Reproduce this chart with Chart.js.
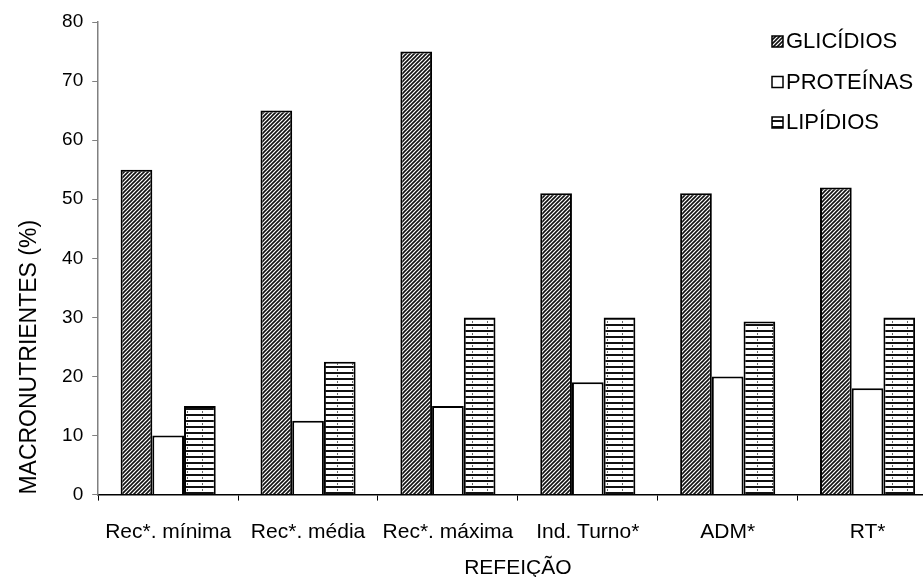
<!DOCTYPE html>
<html>
<head>
<meta charset="utf-8">
<script src="https://cdn.jsdelivr.net/npm/chart.js@4/dist/chart.umd.min.js"></script>
<style>
  html, body { margin: 0; padding: 0; background: #fff; overflow: hidden; }
  #wrap { width: 923px; height: 577px; overflow: hidden; }
</style>
</head>
<body>
<div id="wrap"><canvas id="chart" width="960" height="577"></canvas></div>
<script>
// dados
const refeicoes = ["Rec*. mínima", "Rec*. média", "Rec*. máxima", "Ind. Turno*", "ADM*", "RT*"];
const glicidios = [55, 65, 75, 51, 51, 52];
const proteinas = [10, 12.5, 15, 19, 20, 18];
const lipidios = [15, 22.5, 30, 30, 29.3, 30];
const yTicks = [0, 10, 20, 30, 40, 50, 60, 70, 80];

const FONT = "'Liberation Sans', Arial, sans-serif";

// padrão diagonal denso (glicídios)
function diagPattern(ctx) {
  const c = document.createElement("canvas");
  c.width = 4; c.height = 4;
  const g = c.getContext("2d");
  g.fillStyle = "#fff";
  g.fillRect(0, 0, 4, 4);
  g.strokeStyle = "#111";
  g.lineWidth = 1.6;
  g.beginPath();
  g.moveTo(-1, 5); g.lineTo(5, -1);
  g.moveTo(-1, 1); g.lineTo(1, -1);
  g.moveTo(3, 5); g.lineTo(5, 3);
  g.stroke();
  return ctx.createPattern(c, "repeat");
}

// linhas horizontais (lipídios)
function horizPattern(ctx) {
  const c = document.createElement("canvas");
  c.width = 15; c.height = 6;
  const g = c.getContext("2d");
  g.fillStyle = "#fff";
  g.fillRect(0, 0, 15, 6);
  g.fillStyle = "#111";
  g.fillRect(0, 0, 15, 2);
  g.fillStyle = "#666";
  g.fillRect(7, 3, 1, 2);
  return ctx.createPattern(c, "repeat");
}

const ctx = document.getElementById("chart").getContext("2d");
const fills = [diagPattern(ctx), "#fff", horizPattern(ctx)];

const legendBox = {
  id: "legendBox",
  afterDraw(chart) {
    const c = chart.ctx;
    c.save();
    c.font = "22px " + FONT;
    c.textBaseline = "middle";
    chart.data.datasets.forEach((ds, i) => {
      const y = 41 + i * 40.5;
      c.fillStyle = ds.backgroundColor;
      c.fillRect(772, y - 5, 11, 11);
      c.strokeStyle = "#000";
      c.lineWidth = 1.5;
      c.strokeRect(772, y - 5, 11, 11);
      c.fillStyle = "#000";
      c.fillText(ds.label, 786, y + 1);
    });
    c.restore();
  }
};

new Chart(ctx, {
  type: "bar",
  data: {
    labels: refeicoes,
    datasets: [
      { label: "GLICÍDIOS", data: glicidios, backgroundColor: fills[0] },
      { label: "PROTEÍNAS", data: proteinas, backgroundColor: fills[1] },
      { label: "LIPÍDIOS", data: lipidios, backgroundColor: fills[2] }
    ].map((d) => Object.assign(d, {
      borderColor: "#000",
      borderWidth: 2,
      barPercentage: 1,
      categoryPercentage: 0.68
    }))
  },
  options: {
    responsive: false,
    animation: false,
    layout: { padding: { top: 22, right: 22.5, left: 11.5, bottom: 0 } },
    plugins: { legend: { display: false }, tooltip: { enabled: false } },
    scales: {
      x: {
        grid: { drawOnChartArea: false, drawTicks: true, tickLength: 6, color: "#000", offset: true },
        border: { color: "#000", width: 1.5 },
        ticks: { color: "#000", font: { size: 21, family: FONT }, padding: 19, maxRotation: 0, autoSkip: false },
        title: { display: true, text: "REFEIÇÃO", color: "#000", font: { size: 21, family: FONT }, padding: { top: -8, bottom: -4 } }
      },
      y: {
        min: 0,
        max: 80,
        afterBuildTicks: (axis) => { axis.ticks = yTicks.map((v) => ({ value: v })); },
        grid: { drawOnChartArea: false, drawTicks: true, tickLength: 6, color: "#808080" },
        border: { color: "#808080", width: 1.5 },
        ticks: { color: "#000", font: { size: 19, family: FONT }, padding: 9 },
        title: { display: true, text: "MACRONUTRIENTES (%)", align: "start", color: "#000", font: { size: 23, family: FONT }, padding: { bottom: 10 } }
      }
    }
  },
  plugins: [legendBox]
});
</script>
</body>
</html>
